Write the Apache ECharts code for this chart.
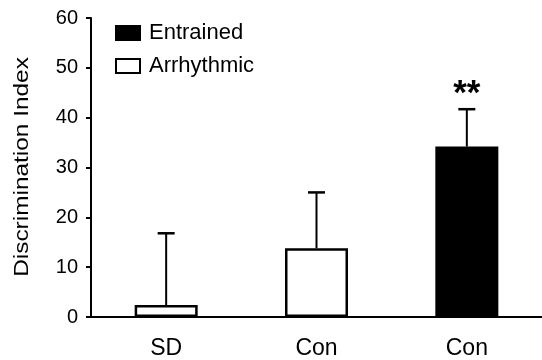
<!DOCTYPE html>
<html><head><meta charset="utf-8">
<script src="https://cdn.jsdelivr.net/npm/echarts@6/dist/echarts.min.js"></script>
<style>html,body{margin:0;padding:0;background:#fff}#c{width:542px;height:360px}</style>
</head><body><div id="c"></div>
<script>
const categories = ['SD', 'Con', 'Con'];
const entrained = [null, null, 34.2];
const arrhythmic = [2.4, 13.8, null];
const errors = [14.4, 11.2, 7.5];
const significance = ['', '', '**'];
const yTicks = [0, 10, 20, 30, 40, 50, 60];
const yTitle = 'Discrimination Index';

const means = categories.map((_, i) => entrained[i] != null ? entrained[i] : arrhythmic[i]);
const errData = means.map((m, i) => [i, m, m + errors[i], significance[i]]);

const chart = echarts.init(document.getElementById('c'), null, {renderer: 'canvas'});
const F = 'Liberation Sans, Arial, sans-serif';
chart.setOption({
  animation: false,
  backgroundColor: '#fff',
  grid: {left: 91, right: -2, top: 18, bottom: 43, containLabel: false},
  legend: {
    orient: 'vertical', left: 110, top: 17, itemWidth: 24, itemHeight: 14, itemGap: 11,
    icon: 'rect',
    textStyle: {fontFamily: F, fontSize: 22, color: '#000', padding: [0, 0, 0, 4]},
    data: ['Entrained', 'Arrhythmic']
  },
  graphic: [{
    type: 'text', x: 22, y: 167, rotation: Math.PI / 2, scaleX: 1.22,
    style: {text: yTitle, font: '20px ' + F, fill: '#000', align: 'center', verticalAlign: 'middle'}
  }],
  xAxis: {
    type: 'category', data: categories,
    axisLine: {lineStyle: {color: '#000', width: 2}},
    axisTick: {alignWithLabel: true, length: 5, lineStyle: {color: '#000', width: 2}},
    axisLabel: {fontFamily: F, fontSize: 23, color: '#000', margin: 20}
  },
  yAxis: {
    type: 'value', min: yTicks[0], max: yTicks[yTicks.length - 1], interval: 10,
    axisLine: {show: true, lineStyle: {color: '#000', width: 2}},
    axisTick: {show: true, length: 5, lineStyle: {color: '#000', width: 2}},
    axisLabel: {fontFamily: F, fontSize: 20, color: '#000', margin: 13},
    splitLine: {show: false}
  },
  series: [
    {
      name: 'Entrained', type: 'bar', data: entrained, barWidth: 63, barGap: '-100%',
      itemStyle: {color: '#000', borderColor: '#000', borderWidth: 2}, z: 3
    },
    {
      name: 'Arrhythmic', type: 'bar', data: arrhythmic, barWidth: 63, barGap: '-100%',
      itemStyle: {color: '#fff', borderColor: '#000', borderWidth: 2.5}, z: 3
    },
    {
      type: 'custom', data: errData, z: 2,
      renderItem: function (params, api) {
        const x = api.coord([api.value(0), api.value(1)])[0];
        const y0 = api.coord([api.value(0), api.value(1)])[1];
        const y1 = api.coord([api.value(0), api.value(2)])[1];
        const children = [
          {type: 'line', shape: {x1: x, y1: y0, x2: x, y2: y1}, style: {stroke: '#000', lineWidth: 2}},
          {type: 'line', shape: {x1: x - 8.5, y1: y1, x2: x + 8.5, y2: y1}, style: {stroke: '#000', lineWidth: 2.5}}
        ];
        const s = significance[params.dataIndex];
        if (s) {
          children.push({type: 'text', style: {text: s, x: x, y: y1 + 3, align: 'center', verticalAlign: 'bottom',
            font: 'bold 35px ' + F, fill: '#000'}});
        }
        return {type: 'group', children: children};
      }
    }
  ]
});
</script></body></html>
